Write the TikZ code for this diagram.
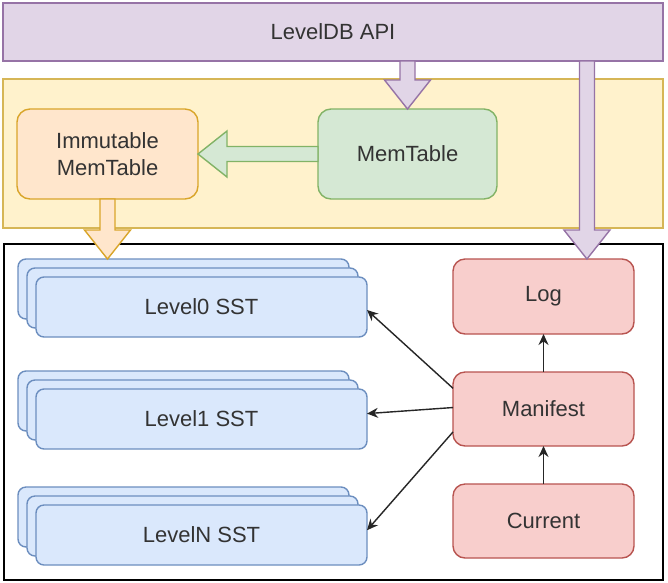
\documentclass[tikz,border=0pt]{standalone}
\usepackage{fontspec}
\setmainfont{Liberation Sans}
\usepackage{tikz}
\usetikzlibrary{positioning,calc,arrows.meta}
\definecolor{apifill}{HTML}{E1D5E7}
\definecolor{apiline}{HTML}{9673A6}
\definecolor{zonefill}{HTML}{FFF2CC}
\definecolor{zoneline}{HTML}{D6B656}
\definecolor{immfill}{HTML}{FFE6CC}
\definecolor{immline}{HTML}{D9A52A}
\definecolor{memfill}{HTML}{D5E8D4}
\definecolor{memline}{HTML}{82B366}
\definecolor{sstfill}{HTML}{DAE8FC}
\definecolor{sstline}{HTML}{6C8EBF}
\definecolor{metafill}{HTML}{F8CECC}
\definecolor{metaline}{HTML}{B85450}

% wide block arrow from #2 to #3
\newcommand{\fatarrow}[3]{%
  \coordinate (fa-h) at ($(#3)!29pt!(#2)$);
  \draw[#1] ($(#2)!7.5pt!90:(#3)$) -- ($(fa-h)!7.5pt!90:(#3)$) -- ($(fa-h)!23pt!90:(#3)$) -- (#3)
    -- ($(fa-h)!23pt!-90:(#3)$) -- ($(fa-h)!7.5pt!-90:(#3)$) -- ($(#2)!7.5pt!-90:(#3)$) -- cycle;
}

\begin{document}
\begin{tikzpicture}[
  x=1pt, y=-1pt,
  every node/.style={font=\fontsize{22}{27}\selectfont, text=black!80, inner sep=0pt, outer sep=0pt, line width=1.4pt},
  apibar/.style={rectangle, draw=apiline, fill=apifill, minimum width=660pt, minimum height=58pt},
  memzone/.style={rectangle, draw=zoneline, fill=zonefill, minimum width=660pt, minimum height=149pt},
  diskzone/.style={rectangle, draw=black, fill=white, minimum width=659pt, minimum height=336pt},
  immbox/.style={rectangle, draw=immline, fill=immfill, rounded corners=13pt, minimum width=181pt, minimum height=90pt, align=center},
  membox/.style={rectangle, draw=memline, fill=memfill, rounded corners=13pt, minimum width=179pt, minimum height=90pt},
  sst/.style={rectangle, draw=sstline, fill=sstfill, rounded corners=8pt, minimum width=331pt, minimum height=60pt},
  metabox/.style={rectangle, draw=metaline, fill=metafill, rounded corners=12pt, minimum width=181pt, minimum height=74pt},
  arrow/.style={-{Stealth[length=11pt,width=10pt]}, line width=1.4pt, black!85},
  apiarrow/.style={draw=apiline, fill=apifill, line width=1.4pt},
  immarrow/.style={draw=immline, fill=immfill, line width=1.4pt},
  memarrow/.style={draw=memline, fill=memfill, line width=1.4pt}
]
\useasboundingbox (0,0) rectangle (668,582);
\node[apibar] (api) at (333,32) {LevelDB API};
\node[memzone] (zone) at (333,153.5) {};
\node[immbox] (imm) at (107.5,154) {Immutable\\MemTable};
\node[membox] (mem) at (407.5,154) {MemTable};
\node[diskzone] (disk) at (333.5,412) {};
\node[sst] (l0c) at (183.5,289) {};
\node[sst] (l0b) at (192.5,298) {};
\node[sst] (l0) at (201.5,307) {Level0 SST};
\node[sst] (l1c) at (183.5,401) {};
\node[sst] (l1b) at (192.5,410) {};
\node[sst] (l1) at (201.5,419) {Level1 SST};
\node[sst] (lnc) at (183.5,517) {};
\node[sst] (lnb) at (192.5,526) {};
\node[sst] (ln) at (201.5,535) {LevelN SST};
\node[metabox, minimum height=75pt] (log) at (543.5,296.5) {Log};
\node[metabox, below=38pt of log] (manifest) {Manifest};
\node[metabox, below=38pt of manifest] (current) {Current};
\draw[arrow] (current) -- (manifest);
\draw[arrow] (manifest) -- (log);
\draw[arrow] ($(manifest.north west)!0.22!(manifest.south west)$) -- ($(l0.north east)!0.55!(l0.south east)$);
\draw[arrow] ($(manifest.north west)!0.48!(manifest.south west)$) -- ($(l1.north east)!0.41!(l1.south east)$);
\draw[arrow] ($(manifest.north west)!0.81!(manifest.south west)$) -- ($(ln.north east)!0.42!(ln.south east)$);
\coordinate (logtip) at ($(log.north west)!0.74!(log.north east)$);
\fatarrow{memarrow}{mem.west}{imm.east}
\fatarrow{apiarrow}{mem.north |- api.south}{mem.north}
\fatarrow{apiarrow}{logtip |- api.south}{logtip}
\coordinate (l0tip) at (imm.south |- l0c.north);
\fatarrow{immarrow}{imm.south}{l0tip}
\end{tikzpicture}
\end{document}
